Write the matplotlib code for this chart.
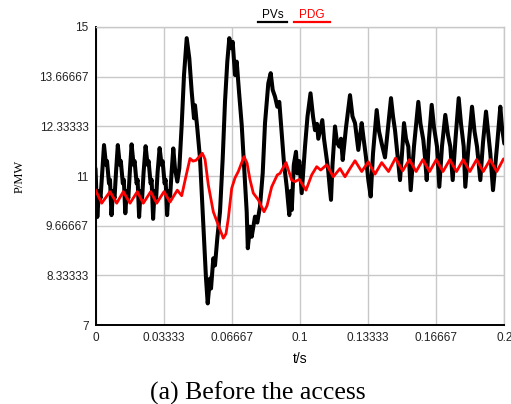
import matplotlib
matplotlib.use("Agg")
import matplotlib.pyplot as plt
from matplotlib.lines import Line2D

# ---------------- data ----------------
pvs_t = [0.0, 0.00049, 0.00088, 0.00171, 0.00245, 0.00318,
         0.00416, 0.00514, 0.00563, 0.00660, 0.00709, 0.00783, 0.00856, 0.00930, 0.01003,
         0.01091, 0.01189, 0.01238, 0.01336, 0.01385, 0.01458, 0.01531, 0.01605, 0.01678,
         0.01766, 0.01864, 0.01913, 0.02011, 0.02060, 0.02133, 0.02207, 0.02280, 0.02353,
         0.02451, 0.02549, 0.02598, 0.02696, 0.02745, 0.02818, 0.02891, 0.02965, 0.03038,
         0.03136, 0.03234, 0.03283, 0.03381, 0.03430, 0.03503, 0.03576, 0.03650, 0.03723,
         0.03806, 0.03889, 0.04002, 0.04100, 0.04217, 0.04330, 0.04462, 0.04589, 0.04706,
         0.04819, 0.04868, 0.04980, 0.05113, 0.05274, 0.05406, 0.05489, 0.05602, 0.05651,
         0.05763, 0.05846, 0.05959, 0.06091, 0.06223, 0.06336, 0.06448, 0.06546, 0.06629,
         0.06712, 0.06825, 0.06908, 0.07021, 0.07153, 0.07265, 0.07397, 0.07451, 0.07559,
         0.07642, 0.07803, 0.07916, 0.08048, 0.08180, 0.08293, 0.08454, 0.08571, 0.08669,
         0.08782, 0.08894, 0.08992, 0.09110, 0.09222, 0.09354, 0.09481, 0.09554, 0.09603,
         0.09700, 0.09809, 0.09873, 0.09971, 0.10088, 0.10250, 0.10372, 0.10519, 0.10641,
         0.10739, 0.10837, 0.10900, 0.11096, 0.11179, 0.11277, 0.11375, 0.11472, 0.11521,
         0.11595, 0.11717, 0.11815, 0.11927, 0.12011, 0.12094, 0.12255, 0.12451, 0.12573,
         0.12696, 0.12857, 0.13023, 0.13102, 0.13234, 0.13347, 0.13464, 0.13576, 0.13757,
         0.13870, 0.14002, 0.14163, 0.14310, 0.14457, 0.14555, 0.14653, 0.14814, 0.14897,
         0.14995, 0.15093, 0.15191, 0.15303, 0.15421, 0.15582, 0.15793, 0.15900, 0.16037,
         0.16120, 0.16204, 0.16316, 0.16448, 0.16561, 0.16707, 0.16820, 0.16952, 0.17113,
         0.17245, 0.17358, 0.17475, 0.17613, 0.17769, 0.17882, 0.18014, 0.18092, 0.18249,
         0.18420, 0.18542, 0.18665, 0.18826, 0.18958, 0.19105, 0.19203, 0.19315, 0.19447,
         0.19643, 0.19805, 0.19888, 0.20000]
pvs_p = [11.2, 10.5, 9.9, 10.6, 10.4, 11.0,
         11.83, 11.3, 11.4, 10.8, 10.9, 9.95, 10.6, 10.4, 11.1,
         11.83, 11.3, 11.4, 10.8, 10.9, 10.0, 10.6, 10.4, 11.1,
         11.85, 11.3, 11.4, 10.8, 10.9, 9.9, 10.6, 10.4, 11.1,
         11.8, 11.3, 11.4, 10.8, 10.9, 9.85, 10.6, 10.4, 11.1,
         11.75, 11.3, 11.4, 10.8, 10.9, 9.95, 10.6, 10.45, 11.1,
         11.74, 11.2, 10.85, 11.2, 12.37, 13.71, 14.7, 14.16, 13.26,
         12.55, 12.9, 12.28, 11.47, 9.68, 8.25, 7.58, 8.25, 7.98,
         8.79, 8.6, 9.33, 10.04, 11.47, 13.0, 14.07, 14.7, 14.43,
         14.6, 13.71, 14.07, 13.26, 12.37, 11.3, 10.04, 9.06, 9.64,
         9.37, 9.91, 9.75, 10.18, 11.07, 12.42, 13.49, 13.76, 13.31,
         13.13, 12.86, 12.99, 12.15, 11.34, 10.71, 9.95, 10.6, 10.09,
         11.3, 11.65, 11.07, 11.4, 10.54, 11.79, 12.6, 13.22, 12.6,
         12.23, 12.4, 12.0, 12.5, 12.0, 11.61, 11.2, 10.62, 10.36,
         11.3, 12.33, 11.9, 11.79, 12.0, 11.43, 12.3, 13.17, 12.6,
         12.42, 11.7, 12.42, 12.06, 11.5, 10.89, 10.45, 11.6, 12.77,
         12.2, 11.87, 11.5, 12.3, 13.09, 12.6, 12.23, 11.34, 10.89,
         11.6, 12.42, 12.0, 11.79, 10.62, 11.8, 12.99, 12.4, 11.97,
         11.5, 10.89, 12.0, 12.91, 12.3, 11.79, 10.71, 11.8, 12.64,
         12.1, 11.79, 10.89, 12.0, 13.09, 12.4, 11.79, 10.71, 11.8,
         12.86, 12.2, 11.79, 10.89, 11.9, 12.73, 12.2, 11.61, 10.62,
         11.8, 12.86, 12.3, 11.87]

pdg_t = [0.0, 0.00303, 0.00709, 0.01037, 0.01360, 0.01688, 0.02045, 0.02339,
         0.02701, 0.02994, 0.03351, 0.03645, 0.04002, 0.04217, 0.04428, 0.04623,
         0.04770, 0.04917, 0.05225, 0.05357, 0.05519, 0.05763, 0.06008, 0.06252,
         0.06384, 0.06497, 0.06663, 0.06825, 0.06986, 0.07265, 0.07412, 0.07559,
         0.07720, 0.07965, 0.08244, 0.08391, 0.08620, 0.08894, 0.09026, 0.09320,
         0.09599, 0.09760, 0.09971, 0.10152, 0.10299, 0.10577, 0.10822, 0.11018,
         0.11311, 0.11634, 0.11962, 0.12206, 0.12451, 0.12696, 0.13023, 0.13347,
         0.13674, 0.14002, 0.14335, 0.14677, 0.15030, 0.15357, 0.15685, 0.16018,
         0.16346, 0.16673, 0.17001, 0.17334, 0.17662, 0.17989, 0.18317, 0.18645,
         0.18973, 0.19305, 0.19633, 0.19961, 0.20000]
pdg_p = [10.62, 10.27, 10.58, 10.27, 10.58, 10.27, 10.58, 10.27,
         10.58, 10.27, 10.58, 10.30, 10.62, 10.47, 11.0, 11.47,
         11.40, 11.42, 11.61, 11.45, 10.76, 10.04, 9.68, 9.33,
         9.45, 9.86, 10.67, 10.95, 11.12, 11.52, 11.35, 10.9,
         10.54, 10.36, 10.04, 10.2, 10.71, 11.03, 11.07, 11.36,
         10.89, 10.85, 10.91, 10.75, 10.62, 11.03, 11.25, 11.16,
         11.3, 10.98, 11.2, 10.98, 11.2, 11.41, 11.12, 11.38,
         11.05, 11.36, 11.12, 11.48, 11.14, 11.44, 11.12, 11.44,
         11.12, 11.44, 11.12, 11.44, 11.12, 11.44, 11.12, 11.44,
         11.12, 11.44, 11.12, 11.46, 11.45]

x_ticks = [0, 0.033333, 0.066667, 0.1, 0.133333, 0.166667, 0.2]
x_labels = ["0", "0.03333", "0.06667", "0.1", "0.13333", "0.16667", "0.2"]
y_ticks = [7, 8.333333, 9.666667, 11, 12.333333, 13.666667, 15]
y_labels = ["7", "8.33333", "9.66667", "11", "12.33333", "13.66667", "15"]

# ---------------- figure ----------------
fig = plt.figure(figsize=(5.11, 4.04), dpi=100)
ax = fig.add_axes([0.1869, 0.1955, 0.8, 0.7377])

ax.plot(pvs_t, pvs_p, color="black", lw=2.9, solid_joinstyle="round",
        solid_capstyle="round", zorder=3)
ax.plot(pdg_t, pdg_p, color="#ff0000", lw=2.0, solid_joinstyle="round", zorder=4)

ax.set_xlim(0, 0.2)
ax.set_ylim(7, 15)
ax.set_xticks(x_ticks)
ax.set_xticklabels(x_labels)
ax.set_yticks(y_ticks)
ax.set_yticklabels(y_labels)
ax.tick_params(length=0, labelsize=8.5, labelcolor="#222222", pad=5,
               labelfontfamily="Liberation Sans")
ax.grid(True, color="#c8c8c8", lw=1.0)
ax.set_axisbelow(True)
for s in ["top", "right"]:
    ax.spines[s].set_color("#c8c8c8")
    ax.spines[s].set_linewidth(1.0)
for s in ["left", "bottom"]:
    ax.spines[s].set_color("black")
    ax.spines[s].set_linewidth(1.4)

ax.set_xlabel("t/s", fontsize=10, family="Liberation Sans", labelpad=6)
ax.set_ylabel("P/MW", fontsize=9, family="Liberation Serif", labelpad=10)

# legend-like header
fig.text(272.5 / 511, 1 - 15 / 404, "PVs", ha="center", va="center",
         fontsize=8.5, family="Liberation Sans", color="black")
fig.text(312 / 511, 1 - 15 / 404, "PDG", ha="center", va="center",
         fontsize=8.5, family="Liberation Sans", color="#ff0000")
fig.add_artist(Line2D([258 / 511, 287 / 511], [1 - 22 / 404, 1 - 22 / 404],
                      color="black", lw=1.6))
fig.add_artist(Line2D([294 / 511, 330 / 511], [1 - 22 / 404, 1 - 22 / 404],
                      color="#ff0000", lw=1.6))

fig.text(257.5 / 511, 1 - 393 / 404, "(a) Before the access", ha="center",
         va="center", fontsize=18.5, family="Liberation Serif")

fig.savefig("out.png", dpi=100)
